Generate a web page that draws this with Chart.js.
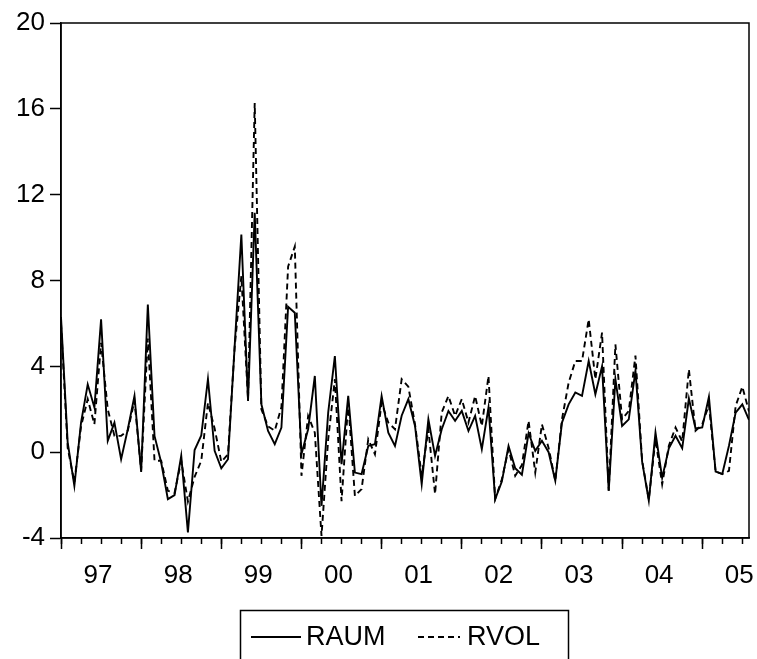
<!DOCTYPE html>
<html>
<head>
<meta charset="utf-8">
<script src="https://cdn.jsdelivr.net/npm/chart.js@4.4.1/dist/chart.umd.min.js"></script>
<style>
  html, body { margin: 0; padding: 0; background: #fff; }
  #wrap { width: 757px; height: 659px; position: relative; }
</style>
</head>
<body>
<div id="wrap"><canvas id="chart"></canvas></div>
<script>
// monthly observations 1997M01 .. 2005M08
const yearLabels = ['97', '98', '99', '00', '01', '02', '03', '04', '05'];
const yTicks = [-4, 0, 4, 8, 12, 16, 20];

const raum = [
  6.3, 0.46, -1.57, 1.38, 3.16, 2.08, 6.19, 0.53, 1.38, -0.33, 1.07, 2.62,
  -0.92, 6.88, 0.76, -0.48, -2.19, -2.0, -0.17, -3.74, 0.1, 0.78, 3.41, 0.06,
  -0.75, -0.33, 4.94, 10.14, 2.39, 11.15, 2.23, 0.99, 0.37, 1.15, 6.78, 6.5,
  -0.09, 1.07, 3.55, -2.5, 1.84, 4.48, -0.56, 2.62, -0.95, -1.02, 0.29, 0.37,
  2.62, 0.91, 0.29, 1.7, 2.47, 1.22, -1.49, 1.53, -0.17, 1.07, 1.92, 1.46,
  1.92, 0.99, 1.69, 0.14, 2.08, -2.19, -1.37, 0.29, -0.75, -1.05, 0.88, 0.06,
  0.53, 0.0, -1.33, 1.38, 2.23, 2.78, 2.62, 4.25, 2.7, 4.0, -1.8, 3.4,
  1.22, 1.53, 3.8, -0.44, -2.26, 0.91, -1.2, 0.18, 0.76, 0.18, 2.5, 1.1,
  1.15, 2.58, -0.9, -1.02, 0.3, 1.84, 2.23, 1.5
];

const rvol = [
  6.0, 0.2, -1.4, 1.2, 2.47, 1.3, 5.1, 2.0, 0.76, 0.76, 1.0, 2.4,
  -0.85, 5.3, -0.4, -0.4, -1.8, -1.9, -0.4, -2.3, -1.15, -0.4, 2.3, 1.1,
  -0.45, -0.1, 4.9, 8.2, 2.47, 16.27, 2.0, 1.2, 1.0, 2.1, 8.65, 9.58,
  -1.1, 1.69, 0.91, -3.9, 0.6, 3.4, -2.28, 2.3, -2.04, -1.72, 0.6, -0.1,
  2.3, 1.38, 1.07, 3.4, 3.05, 1.3, -1.1, 1.07, -1.95, 1.85, 2.62, 1.69,
  2.47, 1.38, 2.62, 1.22, 3.55, -2.19, -1.26, 0.14, -1.1, -0.6, 1.46, -0.95,
  1.3, 0.2, -1.33, 1.53, 3.24, 4.25, 4.25, 6.19, 3.4, 5.57, -1.8, 5.02,
  1.53, 1.92, 4.5, -0.4, -2.2, 0.6, -1.5, 0.3, 1.15, 0.5, 3.86, 1.0,
  1.3, 2.2, -0.9, -1.02, -0.87, 2.15, 3.05, 1.9
];

const months = [];
for (let y = 1997; months.length < raum.length; y++) {
  for (let m = 1; m <= 12 && months.length < raum.length; m++) {
    months.push(y + 'M' + String(m).padStart(2, '0'));
  }
}

const FONT = "'Liberation Sans', Arial, sans-serif";
const lastIdx = raum.length - 1;

const boxPlugin = {
  id: 'box',
  afterDraw(chart) {
    const ctx = chart.ctx;
    const a = chart.chartArea;
    ctx.save();
    ctx.strokeStyle = '#000';
    ctx.lineWidth = 1.5;
    ctx.strokeRect(a.left, a.top, a.right - a.left, a.bottom - a.top);

    // legend
    ctx.strokeRect(240.5, 610.5, 328, 70);
    ctx.lineWidth = 1.8;
    ctx.beginPath();
    ctx.moveTo(251, 637);
    ctx.lineTo(301, 637);
    ctx.stroke();
    ctx.setLineDash([6, 4]);
    ctx.beginPath();
    ctx.moveTo(418, 637);
    ctx.lineTo(460, 637);
    ctx.stroke();
    ctx.setLineDash([]);
    ctx.fillStyle = '#000';
    ctx.font = '27px ' + FONT;
    ctx.textBaseline = 'middle';
    ctx.fillText('RAUM', 306, 638);
    ctx.fillText('RVOL', 467, 638);
    ctx.restore();
  }
};

new Chart(document.getElementById('chart'), {
  type: 'line',
  data: {
    labels: months,
    datasets: [
      {
        label: 'RAUM',
        data: raum.map((v, i) => ({ x: i, y: v })),
        borderColor: '#000',
        borderWidth: 1.9,
        pointRadius: 0,
        tension: 0,
        fill: false
      },
      {
        label: 'RVOL',
        data: rvol.map((v, i) => ({ x: i, y: v })),
        borderColor: '#000',
        borderWidth: 1.9,
        borderDash: [6, 4],
        pointRadius: 0,
        tension: 0,
        fill: false
      }
    ]
  },
  options: {
    responsive: true,
    maintainAspectRatio: false,
    animation: false,
    devicePixelRatio: 1,
    layout: { padding: { left: 0, top: 23, right: 8, bottom: 71 } },
    plugins: { legend: { display: false }, tooltip: { enabled: false } },
    scales: {
      x: {
        type: 'linear',
        position: 'bottom',
        weight: 0,
        min: 0,
        max: lastIdx,
        afterBuildTicks: s => {
          const t = [];
          for (let i = 0; i <= lastIdx; i += 3) t.push({ value: i });
          s.ticks = t;
        },
        afterFit: s => { s.height = 0; },
        ticks: { display: false },
        grid: { drawOnChartArea: false, drawTicks: true, tickLength: 6, tickWidth: 1.5, tickColor: '#000' },
        border: { display: false }
      },
      xYear: {
        type: 'linear',
        position: 'bottom',
        weight: 1,
        min: 0,
        max: lastIdx,
        afterBuildTicks: s => { s.ticks = yearLabels.map((l, k) => ({ value: k * 12 })); },
        afterFit: s => { s.height = 50; },
        ticks: {
          callback: v => yearLabels[Math.round(v / 12)],
          labelOffset: 37,
          autoSkip: false,
          maxRotation: 0,
          minRotation: 0,
          padding: 11,
          color: '#000',
          font: { family: FONT, size: 26 }
        },
        grid: { drawOnChartArea: false, drawTicks: true, tickLength: 11, tickWidth: 1.5, tickColor: '#000' },
        border: { display: true, color: '#000', width: 1.5 }
      },
      y: {
        type: 'linear',
        min: -4,
        max: 20,
        afterBuildTicks: s => { s.ticks = yTicks.map(v => ({ value: v })); },
        afterFit: s => { s.width = 61; },
        ticks: {
          padding: 5,
          color: '#000',
          font: { family: FONT, size: 26 }
        },
        grid: { drawOnChartArea: false, drawTicks: true, tickLength: 11, tickWidth: 1.5, tickColor: '#000' },
        border: { display: true, color: '#000', width: 1.5 }
      }
    }
  },
  plugins: [boxPlugin]
});
</script>
</body>
</html>
